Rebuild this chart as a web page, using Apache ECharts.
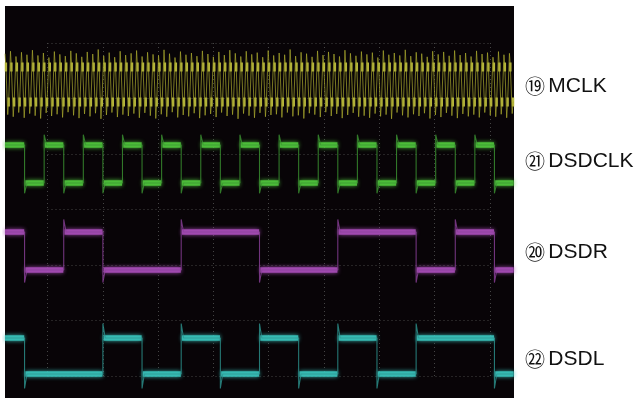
<!DOCTYPE html>
<html><head><meta charset="utf-8">
<script src="https://cdn.jsdelivr.net/npm/echarts@6/dist/echarts.min.js"></script>
<style>html,body{margin:0;padding:0;background:#fff}#c{width:640px;height:398px}</style>
</head><body><div id="c"></div>
<script>
// time axis in DSDCLK half-periods (boundaries of each half-period interval)
const halfPeriodTimes = [-1,0,1,2,3,4,5,6,7,8,9,10,11,12,13,14,15,16,17,18,19,20,21,22,23,24,25];
// logic level during each half-period interval
const dsdclkLevels = [1,0,1,0,1,0,1,0,1,0,1,0,1,0,1,0,1,0,1,0,1,0,1,0,1,0];
const dsdrLevels   = [1,0,0,1,1,0,0,0,0,1,1,1,1,0,0,0,0,1,1,1,1,0,0,1,1,0];
const dsdlLevels   = [1,0,0,0,0,1,1,0,0,1,1,0,0,1,1,0,0,1,1,0,0,1,1,1,1,0];
// MCLK: per-cycle overshoot peaks (logic units, 1 = high level, 0 = low level)
const mclkTop = [1.38,1.45,1.30,1.42,1.35,1.48,1.33,1.40,1.27,1.44,
  1.36,1.31,1.46,1.39,1.29,1.43,1.37,1.50,1.32,1.41,
  1.28,1.45,1.34,1.39,1.47,1.30,1.42,1.36,1.33,1.49,
  1.38,1.27,1.44,1.35,1.40,1.31,1.46,1.37,1.29,1.43,
  1.34,1.48,1.39,1.30,1.45,1.36,1.41,1.28,1.47,1.33,
  1.40,1.35,1.50,1.31,1.42,1.38,1.29,1.46,1.34,1.43,
  1.37,1.30,1.48,1.39,1.32,1.44,1.36,1.41,1.27,1.47,
  1.35,1.40,1.33,1.49,1.31,1.42,1.38,1.29,1.45,1.36,
  1.43,1.32,1.47,1.34,1.40,1.30,1.46,1.37,1.41,1.28,
  1.44,1.35,1.39];
const mclkBot = [-0.36,-0.42,-0.30,-0.45,-0.33,-0.39,-0.47,-0.31,-0.40,-0.35,
  -0.44,-0.29,-0.38,-0.46,-0.34,-0.41,-0.32,-0.48,-0.37,-0.30,
  -0.43,-0.36,-0.40,-0.33,-0.45,-0.31,-0.39,-0.47,-0.35,-0.42,
  -0.29,-0.44,-0.37,-0.41,-0.32,-0.46,-0.38,-0.34,-0.43,-0.30,
  -0.40,-0.36,-0.48,-0.33,-0.39,-0.45,-0.31,-0.42,-0.37,-0.35,
  -0.44,-0.30,-0.41,-0.38,-0.47,-0.32,-0.36,-0.43,-0.29,-0.40,
  -0.34,-0.46,-0.37,-0.31,-0.42,-0.39,-0.45,-0.33,-0.41,-0.36,
  -0.48,-0.30,-0.38,-0.44,-0.35,-0.40,-0.32,-0.47,-0.37,-0.43,
  -0.31,-0.39,-0.46,-0.34,-0.41,-0.36,-0.44,-0.30,-0.38,-0.42,
  -0.35,-0.45,-0.33];
const channelNumbers = ['⑲','㉑','⑳','㉒'];
const channelNames = ['MCLK','DSDCLK','DSDR','DSDL'];

// display settings (screen divisions)
const CH = {
  mclk:   {base:5.333, amp:0.631, color:'rgba(170,170,45,0.7)', blob:'#cccc48'},
  dsdclk: {base:3.874, amp:0.685, over:0.27, color:'#4fc43c', edge:'rgba(60,150,50,0.8)'},
  dsdr:   {base:2.306, amp:0.685, over:0.33, color:'#a64cb6', edge:'rgba(140,65,155,0.8)'},
  dsdl:   {base:0.432, amp:0.649, over:0.40, color:'#38c2ba', edge:'rgba(45,150,145,0.8)'}
};
const lvl = (ch, l) => ch.base + l * ch.amp;

function edgePath(levels, ch) {
  const t = halfPeriodTimes;
  const pts = [[t[0], lvl(ch, levels[0])]];
  for (let i = 1; i < levels.length; i++) {
    if (levels[i] !== levels[i-1]) {
      const dir = levels[i] > levels[i-1] ? 1 : -1;
      pts.push([t[i], lvl(ch, levels[i-1])]);
      pts.push([t[i], lvl(ch, levels[i]) + dir * ch.over * ch.amp]);
      pts.push([t[i] + 0.12, lvl(ch, levels[i])]);
    }
  }
  pts.push([t[levels.length], lvl(ch, levels[levels.length-1])]);
  return pts;
}
function bands(levels, ch) {
  const t = halfPeriodTimes, out = [];
  let start = t[0];
  for (let i = 1; i <= levels.length; i++) {
    if (i === levels.length || levels[i] !== levels[i-1]) {
      const y = lvl(ch, levels[i-1]);
      out.push({coords: [[start + (start === t[0] ? 0 : 0.04), y], [t[i] - 0.02, y]]});
      start = t[i];
    }
  }
  return out;
}

// MCLK samples
const mclkCats = [], mclkData = [], mclkHiBlob = [], mclkLoBlob = [];
for (let k = 0; k < mclkTop.length; k++) {
  const seq = [mclkTop[k], 1, 1, mclkBot[k], 0, 0];
  seq.forEach((v, j) => {
    mclkCats.push(String(k * 6 + j));
    mclkData.push(lvl(CH.mclk, v));
    mclkHiBlob.push(j === 1 ? lvl(CH.mclk, 1) : '-');
    mclkLoBlob.push(j === 4 ? lvl(CH.mclk, 0) : '-');
  });
}

function sigSeries(levels, ch) {
  return [
    {type:'lines', coordinateSystem:'cartesian2d', xAxisIndex:0, yAxisIndex:0,
     data: bands(levels, ch), silent:true,
     lineStyle:{color:ch.color, width:5.5, opacity:0.9, cap:'butt', shadowBlur:4, shadowColor:ch.color}},
    {type:'line', xAxisIndex:0, yAxisIndex:0, data: edgePath(levels, ch),
     showSymbol:false, symbol:'none', silent:true,
     lineStyle:{color:ch.edge, width:1.1}}
  ];
}

const labelY = [86, 161, 252, 359];
const chart = echarts.init(document.getElementById('c'), null, {renderer:'canvas'});
const grat = {show:true, z:1, axisLine:{show:false}, axisTick:{show:false}, axisLabel:{show:false},
  splitLine:{show:true, lineStyle:{color:'#444', width:1, type:[1,3]}}};
chart.setOption({
  animation:false,
  backgroundColor:'#ffffff',
  grid:[
    {left:5, top:6, width:509, height:392, show:true, backgroundColor:'#080407', borderWidth:0},
    {left:47.5, top:43, width:442.4, height:333, show:false}
  ],
  xAxis:[
    {type:'value', gridIndex:0, min:-1, max:25, show:false},
    {type:'category', gridIndex:0, data:mclkCats, boundaryGap:false, show:false},
    Object.assign({type:'value', gridIndex:1, min:0, max:8, interval:1}, grat)
  ],
  yAxis:[
    {type:'value', gridIndex:0, min:0, max:7.063, show:false},
    Object.assign({type:'value', gridIndex:1, min:0, max:6, interval:1}, grat)
  ],
  series:[
    {type:'line', xAxisIndex:1, yAxisIndex:0, data:mclkData, showSymbol:false, symbol:'none', silent:true,
     lineStyle:{color:CH.mclk.color, width:1}},
    {type:'scatter', xAxisIndex:1, yAxisIndex:0, data:mclkHiBlob, symbol:'rect', symbolSize:[2.4,9], silent:true,
     itemStyle:{color:CH.mclk.blob, opacity:0.9}},
    {type:'scatter', xAxisIndex:1, yAxisIndex:0, data:mclkLoBlob, symbol:'rect', symbolSize:[2.4,9], silent:true,
     itemStyle:{color:CH.mclk.blob, opacity:0.9}},
    ...sigSeries(dsdclkLevels, CH.dsdclk),
    ...sigSeries(dsdrLevels, CH.dsdr),
    ...sigSeries(dsdlLevels, CH.dsdl)
  ],
  graphic: channelNames.map((name, i) => ({
    type:'text', x:525, y:labelY[i], silent:true,
    style:{
      text:'{n|' + channelNumbers[i] + '} {t|' + name + '}',
      verticalAlign:'middle', fill:'#111',
      rich:{
        n:{fontFamily:'"Noto Sans CJK JP"', fontSize:20, fill:'#111'},
        t:{fontFamily:'"Liberation Sans", Arial, sans-serif', fontSize:21, fill:'#111'}
      }
    }
  }))
});
</script>
</body></html>
